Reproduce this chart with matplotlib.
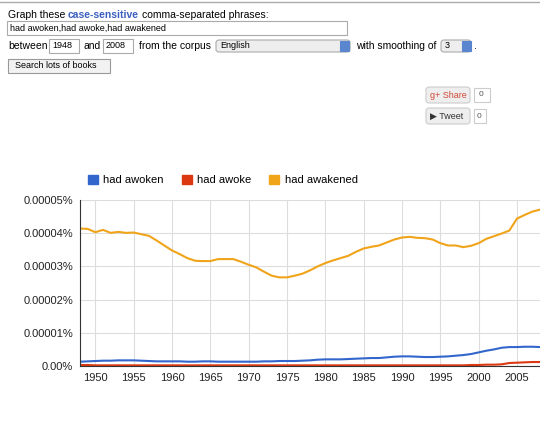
import matplotlib
matplotlib.use("Agg")
import matplotlib.pyplot as plt
from matplotlib.patches import Rectangle, FancyBboxPatch, Patch

years = list(range(1948, 2009))
awakened = [4.14,4.13,4.03,4.10,4.01,4.04,4.01,4.02,3.97,3.92,3.78,3.63,3.48,3.37,3.25,3.17,3.16,3.16,3.22,3.22,
            3.22,3.14,3.05,2.97,2.84,2.72,2.67,2.67,2.72,2.78,2.88,3.00,3.10,3.18,3.25,3.32,3.44,3.54,3.59,3.63,
            3.72,3.81,3.87,3.89,3.86,3.85,3.81,3.70,3.63,3.63,3.58,3.62,3.70,3.83,3.91,3.99,4.08,4.44,4.55,4.65,4.71]
awoken = [0.13,0.14,0.15,0.16,0.16,0.17,0.17,0.17,0.16,0.15,0.14,0.14,0.14,0.14,0.13,0.13,0.14,0.14,0.13,0.13,
          0.13,0.13,0.13,0.13,0.14,0.14,0.15,0.15,0.15,0.16,0.17,0.19,0.20,0.20,0.20,0.21,0.22,0.23,0.24,0.24,
          0.26,0.28,0.29,0.29,0.28,0.27,0.27,0.28,0.29,0.31,0.33,0.36,0.41,0.46,0.50,0.55,0.57,0.57,0.58,0.58,0.57]
awoke = [0.03,0.03,0.02,0.02,0.02,0.02,0.02,0.02,0.02,0.02,0.02,0.02,0.02,0.02,0.02,0.02,0.02,0.02,0.02,0.02,
         0.02,0.02,0.02,0.02,0.02,0.02,0.02,0.02,0.02,0.02,0.02,0.02,0.02,0.02,0.02,0.02,0.02,0.02,0.02,0.02,
         0.02,0.02,0.02,0.02,0.02,0.02,0.02,0.02,0.02,0.02,0.02,0.03,0.03,0.04,0.04,0.05,0.09,0.10,0.11,0.12,0.12]
series = [("had awoken", awoken, "#3366cc"), ("had awoke", awoke, "#dc3912"), ("had awakened", awakened, "#f0a41a")]
yticks = [0, 1, 2, 3, 4, 5]
ylabels = ["0.00%", "0.00001%", "0.00002%", "0.00003%", "0.00004%", "0.00005%"]
xticks = list(range(1950, 2009, 5))

W, H = 540, 422
fig = plt.figure(figsize=(W/100, H/100), dpi=100)
plt.rcParams['font.family'] = ['Liberation Sans', 'DejaVu Sans']

def px(x, y):
    return x / W, 1 - y / H

def box(x, y, w, h, fc="white", ec="#aaaaaa", rounded=False):
    if rounded:
        p = FancyBboxPatch(px(x, y + h), w / W, h / H, boxstyle="round,pad=0,rounding_size=0.006",
                           transform=fig.transFigure, fc=fc, ec=ec, lw=0.8)
    else:
        p = Rectangle(px(x, y + h), w / W, h / H, transform=fig.transFigure, fc=fc, ec=ec, lw=0.8)
    fig.add_artist(p)

def txt(x, y, s, size=7.5, color="black", **kw):
    fig.text(*px(x, y), s, fontsize=size, color=color, va="center", **kw)

fig.add_artist(plt.Line2D([0, 1], [1 - 2/H]*2, transform=fig.transFigure, color="#aaaaaa", lw=1))
txt(8, 15, "Graph these", 7.5)
txt(68, 15, "case-sensitive", 7.5, color="#3b5fc0", fontweight="bold")
txt(142, 15, "comma-separated phrases:", 7.5)
box(7, 21, 340, 14)
txt(10, 28, "had awoken,had awoke,had awakened", 6.5)
txt(8, 46, "between", 7.5)
box(49, 39, 30, 14); txt(52, 46, "1948", 6.5)
txt(84, 46, "and", 7.5)
box(103, 39, 30, 14); txt(106, 46, "2008", 6.5)
txt(139, 46, "from the corpus", 7.5)
box(216, 40, 134, 12, fc="#eeeeee", rounded=True); txt(220, 46, "English", 6.5)
box(340, 41, 9, 10, fc="#5a86d0", ec="#5a86d0")
txt(356, 46, "with smoothing of", 7.5)
box(441, 40, 30, 12, fc="#eeeeee", rounded=True); txt(445, 46, "3", 6.5)
box(462, 41, 9, 10, fc="#5a86d0", ec="#5a86d0")
txt(474, 46, ".", 7.5)
box(8, 59, 102, 14, fc="#f2f2f2", ec="#999999"); txt(15, 66, "Search lots of books", 6.5)
box(426, 87, 44, 16, fc="#eeeeee", ec="#cccccc", rounded=True); txt(430, 95, "g+ Share", 6.5, color="#d14836")
box(474, 88, 16, 14, ec="#cccccc"); txt(479, 95, "0", 6, color="#555555")
box(426, 108, 44, 16, fc="#eeeeee", ec="#cccccc", rounded=True); txt(430, 116, "\u25b6 Tweet", 6.5, color="#333333")
box(474, 109, 12, 14, ec="#cccccc"); txt(477, 116, "0", 6, color="#555555")

ax = fig.add_axes([80/W, 1 - 366/H, (540-80)/W, (366-200)/H])
for name, vals, c in series:
    ax.plot(years, vals, color=c, lw=1.5, label=name)
ax.set_xlim(1948, 2008)
ax.set_ylim(0, 5)
ax.set_yticks(yticks, ylabels)
ax.set_xticks(xticks)
ax.grid(color="#dddddd", lw=0.8)
ax.set_axisbelow(True)
for s in ["top", "right"]:
    ax.spines[s].set_visible(False)
ax.spines["left"].set_color("#333333")
ax.spines["bottom"].set_color("#333333")
ax.tick_params(length=0, labelsize=8, colors="#222222", pad=5)
handles = [Patch(color=c, label=n) for n, _, c in series]
ax.legend(handles=handles, loc="lower left", bbox_to_anchor=(-0.005, 1.03), ncol=3, frameon=False, fontsize=8,
          handlelength=0.9, handleheight=0.9, handletextpad=0.5, columnspacing=1.6)
fig.savefig("out.png", dpi=100)
